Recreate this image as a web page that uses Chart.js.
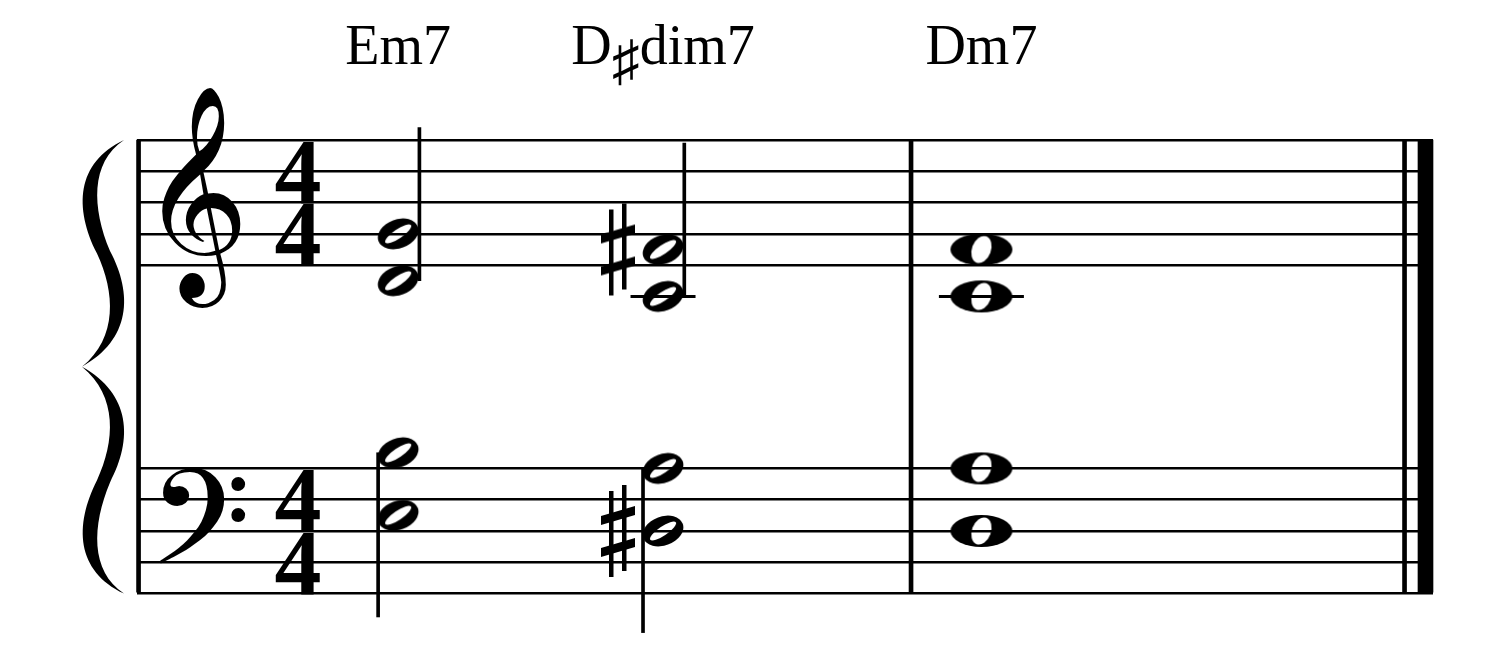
<!DOCTYPE html>
<html>
<head>
<meta charset="utf-8">
<title>Em7 – D♯dim7 – Dm7</title>
<script src="https://cdn.jsdelivr.net/npm/chart.js@4.4.1/dist/chart.umd.min.js"></script>
<style>
  html, body { margin: 0; padding: 0; background: #fff; }
  #score { display: block; }
</style>
</head>
<body>
<canvas id="score" width="1490" height="662"></canvas>
<script>
// chord symbols above the system
const chordNames = ['Em7', 'D♯dim7', 'Dm7'];
// where each chord sits along the staff, in staff spaces from the system start
const chordX = [8.35, 16.82, 27.0];
const chordDurations = ['half', 'half', 'whole'];
// right hand / left hand pitches of each chord
const trebleNotes = [['D4', 'G4'], ['C4', 'F#4'], ['C4', 'F4']];
const bassNotes = [['E3', 'B3'], ['D#3', 'A3'], ['D3', 'A3']];
// barlines (staff spaces); finalBar is the thick one of the double bar
const barlines = [0.05, 24.75, 40.53];
const finalBar = 41.2;
const timeSignature = ['4', '4'];

// staff steps: bass staff G2..A3 = 0..8, treble staff E4..F5 = 21..29
const bassLines = [0, 2, 4, 6, 8];
const trebleLines = [21, 23, 25, 27, 29];

const LETTERS = 'CDEFGAB';
const diatonic = n => LETTERS.indexOf(n[0]) + 7 * parseInt(n[n.length - 1]);
const trebleStep = n => diatonic(n) - diatonic('E4') + 21;
const bassStep = n => diatonic(n) - diatonic('G2');

// build the marks from the chords
const heads = { half: [], whole: [] };
const sharps = [];
const ledgers = [];
const stems = [];
chordNames.forEach((name, i) => {
  const staves = [
    { notes: trebleNotes[i], toStep: trebleStep, lines: trebleLines, dir: 'up' },
    { notes: bassNotes[i], toStep: bassStep, lines: bassLines, dir: 'down' }
  ];
  staves.forEach(st => {
    const steps = st.notes.map(st.toStep);
    const low = st.lines[0], high = st.lines[4];
    const seen = new Set();
    st.notes.forEach((n, k) => {
      const s = steps[k];
      heads[chordDurations[i]].push({ x: chordX[i], y: s });
      if (n.includes('#')) sharps.push({ x: chordX[i] - 1.44, y: s });
      for (let l = low - 2; l >= s; l -= 2) seen.add(l);
      for (let l = high + 2; l <= s; l += 2) seen.add(l);
    });
    seen.forEach(l => ledgers.push({ x: chordX[i], y: l, dur: chordDurations[i] }));
    if (chordDurations[i] !== 'whole') {
      if (st.dir === 'up') stems.push({ x: chordX[i] + 0.68, y: [Math.min(...steps), Math.max(...steps) + 6.8] });
      else stems.push({ x: chordX[i] - 0.64, y: [Math.min(...steps) - 6.5, Math.max(...steps)] });
    }
  });
});

// note glyphs used as point styles
function glyph(w, h, draw) {
  const c = document.createElement('canvas');
  c.width = w; c.height = h;
  const g = c.getContext('2d');
  g.fillStyle = '#000';
  draw(g);
  return c;
}
const halfHead = glyph(46, 34, g => {
  g.translate(23, 17);
  g.rotate(-0.35);
  g.beginPath(); g.ellipse(0, 0, 21, 14.5, 0, 0, Math.PI * 2); g.fill();
  g.globalCompositeOperation = 'destination-out';
  g.rotate(-0.25);
  g.beginPath(); g.ellipse(0, 0, 15.5, 4.6, 0, 0, Math.PI * 2); g.fill();
});
const wholeHead = glyph(66, 34, g => {
  g.translate(33, 17);
  g.beginPath(); g.ellipse(0, 0, 31, 16, 0, 0, Math.PI * 2); g.fill();
  g.globalCompositeOperation = 'destination-out';
  g.rotate(0.35);
  g.beginPath(); g.ellipse(0, 0, 9.5, 14, 0, 0, Math.PI * 2); g.fill();
});
const sharpSign = glyph(38, 96, g => {
  g.fillRect(10, 8, 4.5, 86);
  g.fillRect(23, 2, 4.5, 86);
  [32, 64].forEach(c => {
    g.beginPath();
    g.moveTo(2, c + 1); g.lineTo(36, c - 9); g.lineTo(36, c); g.lineTo(2, c + 10);
    g.closePath(); g.fill();
  });
});

// chord symbol, with the sharp set lower like a music accidental
function drawChordName(ctx, name, cx, baseline) {
  const parts = name.split(/(♯)/).filter(s => s);
  const widths = parts.map(s => ctx.measureText(s).width);
  let px = cx - widths.reduce((a, b) => a + b, 0) / 2;
  ctx.textAlign = 'left';
  parts.forEach((s, k) => {
    ctx.fillText(s, px, s === '♯' ? baseline + 16 : baseline);
    px += widths[k];
  });
  ctx.textAlign = 'center';
}

const engraving = {
  id: 'engraving',
  afterDatasetsDraw(chart) {
    const { ctx, chartArea, scales } = chart;
    const x = scales.x, y = scales.y;
    ctx.save();
    ctx.fillStyle = '#000';

    // brace
    const top = y.getPixelForValue(29), bot = y.getPixelForValue(0);
    const mid = (top + bot) / 2, H = mid - top, L = chartArea.left;
    const P = (dx, t, dir) => [L + dx, dir > 0 ? top + t * H : bot - t * H];
    [1, -1].forEach(dir => {
      const p = (dx, t) => P(dx, t, dir);
      ctx.beginPath();
      ctx.moveTo(...p(-13, 0));
      ctx.bezierCurveTo(...p(-61, 0.1), ...p(-63, 0.3), ...p(-40, 0.5));
      ctx.bezierCurveTo(...p(-22, 0.67), ...p(-19, 0.87), ...p(-55, 1));
      ctx.bezierCurveTo(...p(-6, 0.88), ...p(-4, 0.68), ...p(-27, 0.49));
      ctx.bezierCurveTo(...p(-45, 0.3), ...p(-47, 0.1), ...p(-13, 0));
      ctx.closePath();
      ctx.fill();
    });

    // clefs
    ctx.textAlign = 'center';
    ctx.textBaseline = 'alphabetic';
    const cx = x.getPixelForValue(2);
    ctx.font = '185px "DejaVu Sans"';
    ctx.fillText('\u{1D11E}', cx - 5, y.getPixelForValue(23) + 20);
    ctx.font = '160px "DejaVu Sans"';
    ctx.fillText('\u{1D122}', cx, y.getPixelForValue(0) - 3.5);

    // time signature
    ctx.font = 'bold 94px "Liberation Serif"';
    const tx = x.getPixelForValue(5.15);
    ctx.fillText(timeSignature[0], tx, y.getPixelForValue(25));
    ctx.fillText(timeSignature[1], tx, y.getPixelForValue(21));
    ctx.fillText(timeSignature[0], tx, y.getPixelForValue(4));
    ctx.fillText(timeSignature[1], tx, y.getPixelForValue(0));

    // chord symbols
    ctx.font = '56px "Liberation Serif"';
    chordNames.forEach((name, i) => drawChordName(ctx, name, x.getPixelForValue(chordX[i]), top - 76));
    ctx.restore();
  }
};

const black = '#000';
new Chart(document.getElementById('score'), {
  type: 'scatter',
  data: {
    datasets: [
      { type: 'bar', data: barlines.map(b => ({ x: b, y: [0, 29] })), barThickness: 4,
        backgroundColor: black, grouped: false, clip: false },
      { type: 'bar', data: [{ x: finalBar, y: [0, 29] }], barThickness: 15,
        backgroundColor: black, grouped: false, clip: false },
      { type: 'bar', data: stems, barThickness: 3, backgroundColor: black, grouped: false, clip: false },
      { data: ledgers, pointStyle: 'line', pointBorderColor: black, pointBorderWidth: 3,
        pointRadius: ctx => ctx.raw && ctx.raw.dur === 'whole' ? 42.5 : 32.5, clip: false },
      { data: heads.half, pointStyle: halfHead, clip: false },
      { data: heads.whole, pointStyle: wholeHead, clip: false },
      { data: sharps, pointStyle: sharpSign, clip: false }
    ]
  },
  options: {
    responsive: false,
    animation: false,
    events: [],
    devicePixelRatio: 1,
    layout: { padding: { left: 137, right: 57, top: 140, bottom: 68.5 } },
    plugins: { legend: { display: false }, tooltip: { enabled: false } },
    scales: {
      x: { type: 'linear', min: 0, max: 41.44, offset: false, display: false },
      y: {
        type: 'linear', min: 0, max: 29,
        afterBuildTicks: s => { s.ticks = bassLines.concat(trebleLines).map(v => ({ value: v })); },
        grid: { color: black, lineWidth: 2.5, drawTicks: false },
        border: { display: false },
        ticks: { display: false }
      }
    }
  },
  plugins: [engraving]
});
</script>
</body>
</html>
